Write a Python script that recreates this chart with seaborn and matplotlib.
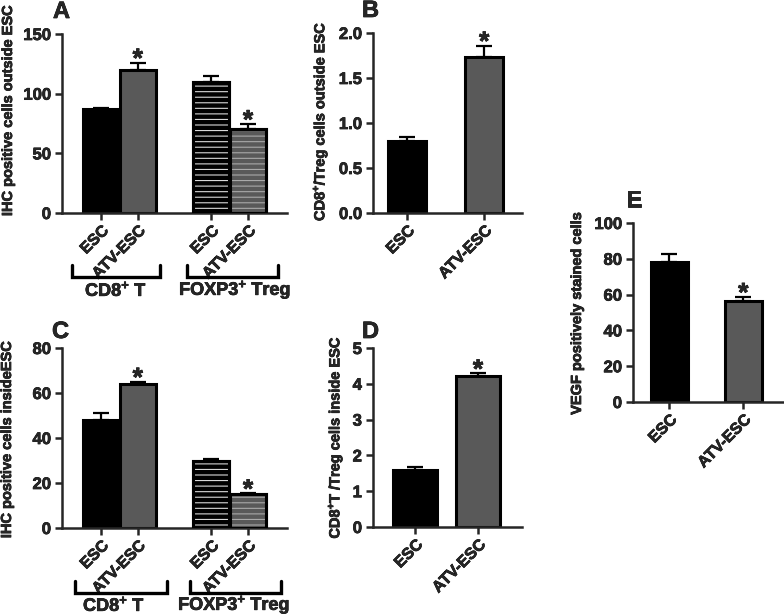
import numpy as np
import pandas as pd
import matplotlib.pyplot as plt
import matplotlib.patheffects as pe
import seaborn as sns
from matplotlib.patches import Rectangle
from matplotlib.lines import Line2D
from matplotlib.text import Text

sns.set_style('ticks')
plt.rcParams['font.family'] = ['Liberation Sans', 'DejaVu Sans']
plt.rcParams['font.weight'] = 'bold'
plt.rcParams['mathtext.fontset'] = 'custom'
plt.rcParams['mathtext.rm'] = 'Liberation Sans:bold'
plt.rcParams['mathtext.bf'] = 'Liberation Sans:bold'
plt.rcParams['mathtext.it'] = 'Liberation Sans:bold'
plt.rcParams['mathtext.default'] = 'rm'
plt.rcParams['hatch.linewidth'] = 0.8

# ----------------------------------------------------------------------------------------------------------------------
# data
groups4 = ['ESC', 'ATV-ESC', 'ESC', 'ATV-ESC']
groups2 = ['ESC', 'ATV-ESC']

a_mean = [87, 120, 110, 70]
a_err = [1.2, 6, 5, 4.5]
a_star = [False, True, False, True]

b_mean = [0.80, 1.73]
b_err = [0.04, 0.13]

c_mean = [48, 64, 30, 15]
c_err = [3, 1, 0.6, 0.4]
c_star = [False, True, False, True]

d_mean = [1.6, 4.22]
d_err = [0.07, 0.07]

e_mean = [78, 56.5]
e_err = [4.5, 2.2]

star2 = [False, True]
hatched4 = [False, False, True, True]

GRAY = '#595959'
PAL = {'ESC': 'black', 'ATV-ESC': GRAY}
HATCH_COL = {'ESC': '#d8d8d8', 'ATV-ESC': '#a9a9a9'}

W, H = 784, 616
fig = plt.figure(figsize=(W / 100, H / 100), dpi=100)


def px_rect(l, r, t, b):
    return [l / W, 1 - b / H, (r - l) / W, (b - t) / H]


def fx(x):
    return x / W


def fy(y):
    return 1 - y / H


def panel(rect, pos, width, means, errs, conds, stars, hatched, yticks, xlim, fmt='{:g}'):
    ax = fig.add_axes(rect)
    df = pd.DataFrame({'x': pos, 'y': means, 'cond': conds})
    sns.barplot(data=df, x='x', y='y', hue='cond', palette=PAL, native_scale=True, width=width,
                dodge=False, errorbar=None, legend=False, edgecolor='black', linewidth=2.2,
                ax=ax, zorder=2)
    # hatched bars: light lines on top of the fill, then the black outline again
    for p in list(ax.patches):
        cx = p.get_x() + p.get_width() / 2
        for i, xp in enumerate(pos):
            if abs(cx - xp) < 1e-6 and hatched[i]:
                ax.add_patch(Rectangle(p.get_xy(), p.get_width(), p.get_height(), fill=False,
                                       hatch='---', edgecolor=HATCH_COL[conds[i]], lw=0, zorder=3))
                ax.add_patch(Rectangle(p.get_xy(), p.get_width(), p.get_height(), fill=False,
                                       edgecolor='black', lw=2.2, zorder=4))
    ax.errorbar(pos, means, yerr=[np.zeros(len(means)), errs], fmt='none', ecolor='black',
                elinewidth=1.6, capsize=6, capthick=1.6, zorder=1)
    for i, s in enumerate(stars):
        if s:
            ax.annotate('*', (pos[i], means[i] + errs[i]), xytext=(0, -3), textcoords='offset points',
                        ha='center', va='baseline', fontsize=19, fontweight='bold')
    ax.set_xlim(*xlim)
    ax.set_ylim(yticks[0], yticks[-1])
    ax.set_yticks(yticks)
    ax.set_yticklabels([fmt.format(t) for t in yticks])
    ax.set_xticks(pos)
    ax.set_xticklabels(conds, rotation=45, ha='right', rotation_mode='anchor')
    ax.set_xlabel('')
    ax.set_ylabel('')
    sns.despine(ax=ax)
    for s in ['left', 'bottom']:
        ax.spines[s].set_linewidth(1.8)
    ax.tick_params(axis='y', width=1.8, length=5, labelsize=12, pad=3)
    ax.tick_params(axis='x', width=1.8, length=5, labelsize=11.5, pad=2)
    return ax


pos4 = [0, 1, 3, 4]
pos2 = [0, 1]

panel(px_rect(62, 287, 34, 213), pos4, 0.98, a_mean, a_err, groups4, a_star, hatched4,
      [0, 50, 100, 150], (-1.06, 5.06))
panel(px_rect(373, 522, 33, 213), pos2, 0.5, b_mean, b_err, groups2, star2, [False, False],
      [0, 0.5, 1.0, 1.5, 2.0], (-0.44, 1.49), fmt='{:.1f}')
panel(px_rect(62, 287, 348, 528), pos4, 0.98, c_mean, c_err, groups4, c_star, hatched4,
      [0, 20, 40, 60, 80], (-1.06, 5.06))
panel(px_rect(373, 522, 348, 527), pos2, 0.7, d_mean, d_err, groups2, star2, [False, False],
      [0, 1, 2, 3, 4, 5], (-0.67, 1.70))
panel(px_rect(633, 784, 223, 402), pos2, 0.5, e_mean, e_err, groups2, star2, [False, False],
      [0, 20, 40, 60, 80, 100], (-0.49, 1.55))

# panel letters
for letter, x, y in [('A', 53, 18), ('B', 362, 17), ('C', 52, 338), ('D', 362, 338), ('E', 626, 207)]:
    fig.text(fx(x), fy(y), letter, fontsize=17, fontweight='bold', ha='left', va='baseline')

# y labels
ylabels = [('IHC positive cells outside ESC', 8, 110),
           ('CD8$^{+}$/Treg cells outside ESC', 320, 121),
           ('IHC positive cells insideESC', 7, 439),
           ('CD8$^{+}$T /Treg cells inside ESC', 335, 437),
           ('VEGF positively stained cells', 577, 313)]
for txt, x, y in ylabels:
    fig.text(fx(x), fy(y), txt, rotation=90, ha='center', va='center', fontsize=10.5, fontweight='bold')

# group brackets under A and C
brackets = [(72, 160, 265, 277), (187, 278, 265, 277), (75, 167, 581, 593), (190, 281, 581, 593)]
for x0, x1, yt, yb in brackets:
    fig.add_artist(Line2D([fx(x0), fx(x0), fx(x1), fx(x1)], [fy(yt), fy(yb), fy(yb), fy(yt)],
                          transform=fig.transFigure, color='black', lw=2.4, solid_joinstyle='miter'))
for txt, x, y in [('CD8$^{+}$ T', 116, 290), ('FOXP3$^{+}$ Treg', 235, 290),
                  ('CD8$^{+}$ T', 114, 605), ('FOXP3$^{+}$ Treg', 234, 605)]:
    fig.text(fx(x), fy(y), txt, ha='center', va='center', fontsize=13, fontweight='bold')

# slightly heavier strokes on all text, like the reference
for t in fig.findobj(Text):
    t.set_path_effects([pe.withStroke(linewidth=0.5, foreground='black')])

fig.savefig('out.png', dpi=100)
